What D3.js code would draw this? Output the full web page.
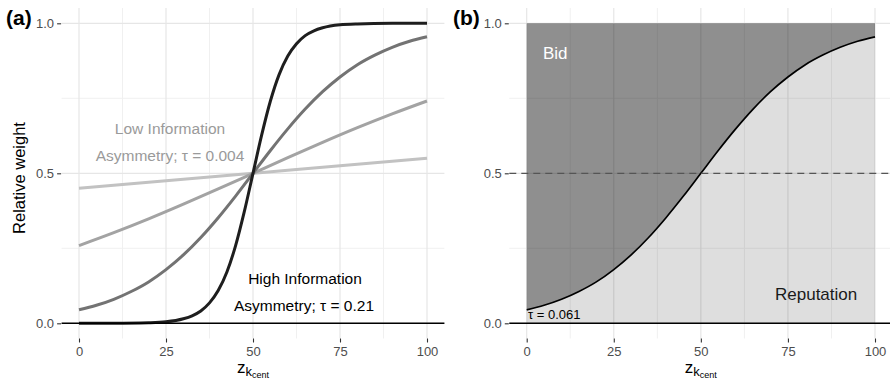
<!DOCTYPE html>
<html><head><meta charset="utf-8">
<script src="https://cdn.jsdelivr.net/npm/d3@7"></script>
<style>body{margin:0;background:#fff}svg{display:block;font-family:"Liberation Sans",Arial,sans-serif}</style>
</head><body><svg id="c" width="890" height="382"></svg>
<script>
// ---- data ----
const zLow = [0,10,20,30,40,50,60,70,80,90,100];
const wTau004 = [0.450,0.460,0.470,0.480,0.490,0.500,0.510,0.520,0.530,0.540,0.550];
const wTau021 = [0.259,0.302,0.348,0.397,0.448,0.500,0.552,0.603,0.652,0.698,0.741];
const zMid = [0,5,10,15,20,25,30,35,40,45,50,55,60,65,70,75,80,85,90,95,100];
const wTau061 = [0.045,0.060,0.080,0.106,0.138,0.179,0.228,0.286,0.352,0.424,0.500,0.576,0.648,0.714,0.772,0.821,0.862,0.894,0.920,0.940,0.955];
const zHigh = [0,10,20,25,30,32.5,35,37.5,40,42.5,45,47.5,50,52.5,55,57.5,60,62.5,65,67.5,70,75,80,90,100];
const wTau21 = [0,0.0002,0.002,0.005,0.015,0.025,0.041,0.068,0.109,0.171,0.259,0.372,0.500,0.628,0.741,0.829,0.891,0.932,0.959,0.975,0.985,0.995,0.998,0.9998,1];
const xTicks = [0,25,50,75,100];
const yTicks = [0,0.5,1];
const xMinor = [12.5,37.5,62.5,87.5];
const yMinor = [0.25,0.75];
const yTickLabels = ["0.0","0.5","1.0"];
const seriesA = [
  {z: zLow, w: wTau004, color: "#c2c2c2"},
  {z: zLow, w: wTau021, color: "#a3a3a3"},
  {z: zMid, w: wTau061, color: "#737373"},
  {z: zHigh, w: wTau21, color: "#1e1e1e"}
];

const svg = d3.select("#c");
const y = d3.scaleLinear().domain([0,1]).range([323.3,23.3]);
const panelTop = 8, panelBot = 338.5;

function panel(x0, x100, label, labelX) {
  const x = d3.scaleLinear().domain([0,100]).range([x0,x100]);
  const pl = x(-5), pr = Math.min(x(105), 890);
  const g = svg.append("g");
  g.selectAll(".vm").data(xMinor).join("line").attr("x1",d=>x(d)).attr("x2",d=>x(d)).attr("y1",panelTop).attr("y2",panelBot).attr("stroke","#f0f0f0").attr("stroke-width",1);
  g.selectAll(".hm").data(yMinor).join("line").attr("y1",d=>y(d)).attr("y2",d=>y(d)).attr("x1",pl).attr("x2",pr).attr("stroke","#f0f0f0").attr("stroke-width",1);
  g.selectAll(".vM").data(xTicks).join("line").attr("x1",d=>x(d)).attr("x2",d=>x(d)).attr("y1",panelTop).attr("y2",panelBot).attr("stroke","#e6e6e6").attr("stroke-width",1.2);
  g.selectAll(".hM").data(yTicks).join("line").attr("y1",d=>y(d)).attr("y2",d=>y(d)).attr("x1",pl).attr("x2",pr).attr("stroke","#e6e6e6").attr("stroke-width",1.2);
  const ax = d3.axisBottom(x).tickValues(xTicks).tickSize(4).tickPadding(4);
  const ag = svg.append("g").attr("transform",`translate(0,${panelBot})`).call(ax);
  const ay = d3.axisLeft(y).tickValues(yTicks).tickFormat((d,i)=>yTickLabels[i]).tickSize(4).tickPadding(3);
  const agy = svg.append("g").attr("transform",`translate(${pl-0.5},0)`).call(ay);
  [ag,agy].forEach(a=>{
    a.select(".domain").remove();
    a.selectAll("line").attr("stroke","#333").attr("stroke-width",1.1);
    a.selectAll("text").attr("fill","#4d4d4d").style("font-size","13px").style("font-family","Liberation Sans, Arial, sans-serif");
  });
  const t = svg.append("text").attr("x",x(50)).attr("y",373).attr("text-anchor","middle").attr("fill","#000").style("font-size","17px");
  t.append("tspan").text("z");
  t.append("tspan").attr("dy",3).style("font-size","13px").text("k");
  t.append("tspan").attr("dy",2).style("font-size","9px").text("cent");
  svg.append("text").attr("x",labelX).attr("y",25).attr("font-weight","bold").style("font-size","21px").attr("fill","#000").text(label);
  return {x, g, pl, pr};
}

// ---- Panel (a) ----
const A = panel(79, 427, "(a)", 6);
svg.append("text").attr("transform","translate(25,178) rotate(-90)").attr("text-anchor","middle").style("font-size","16.5px").attr("fill","#000").text("Relative weight");
const lineA = d3.line().curve(d3.curveMonotoneX);
seriesA.forEach(s=>{
  svg.append("path").attr("d", lineA(s.z.map((z,i)=>[A.x(z), y(s.w[i])]))).attr("fill","none").attr("stroke",s.color).attr("stroke-width",3).attr("stroke-linecap","butt");
});
svg.append("line").attr("x1",A.pl).attr("x2",A.pr).attr("y1",y(0)).attr("y2",y(0)).attr("stroke","#000").attr("stroke-width",1.6);
svg.append("text").attr("x",170).attr("y",134).attr("text-anchor","middle").attr("fill","#9a9a9a").style("font-size","15.5px").text("Low Information");
svg.append("text").attr("x",170).attr("y",161).attr("text-anchor","middle").attr("fill","#9a9a9a").style("font-size","15.5px").text("Asymmetry; τ = 0.004");
svg.append("text").attr("x",305).attr("y",284).attr("text-anchor","middle").attr("fill","#000").style("font-size","15.5px").text("High Information");
svg.append("text").attr("x",304).attr("y",311).attr("text-anchor","middle").attr("fill","#000").style("font-size","15.5px").text("Asymmetry; τ = 0.21");

// ---- Panel (b) ----
const B = panel(526.7, 875, "(b)", 453);
const pts = zMid.map((z,i)=>({z, w: wTau061[i]}));
const areaTop = d3.area().curve(d3.curveMonotoneX).x(d=>B.x(d.z)).y0(y(1)).y1(d=>y(d.w));
const areaBot = d3.area().curve(d3.curveMonotoneX).x(d=>B.x(d.z)).y0(y(0)).y1(d=>y(d.w));
svg.append("path").attr("d",areaTop(pts)).attr("fill","#000").attr("fill-opacity",0.44);
svg.append("path").attr("d",areaBot(pts)).attr("fill","#000").attr("fill-opacity",0.13);
svg.append("path").attr("d",d3.line().curve(d3.curveMonotoneX).x(d=>B.x(d.z)).y(d=>y(d.w))(pts)).attr("fill","none").attr("stroke","#000").attr("stroke-width",1.7);
svg.append("line").attr("x1",B.pl).attr("x2",B.pr).attr("y1",y(0.5)).attr("y2",y(0.5)).attr("stroke","#555").attr("stroke-width",1.3).attr("stroke-dasharray","7,5");
svg.append("line").attr("x1",B.pl).attr("x2",B.pr).attr("y1",y(0)).attr("y2",y(0)).attr("stroke","#000").attr("stroke-width",1.6);
svg.append("text").attr("x",543).attr("y",59).attr("fill","#fff").style("font-size","17px").text("Bid");
svg.append("text").attr("x",775).attr("y",300).attr("fill","#1a1a1a").style("font-size","17px").text("Reputation");
svg.append("text").attr("x",528).attr("y",319).attr("fill","#000").style("font-size","13px").text("τ = 0.061");
</script></body></html>
